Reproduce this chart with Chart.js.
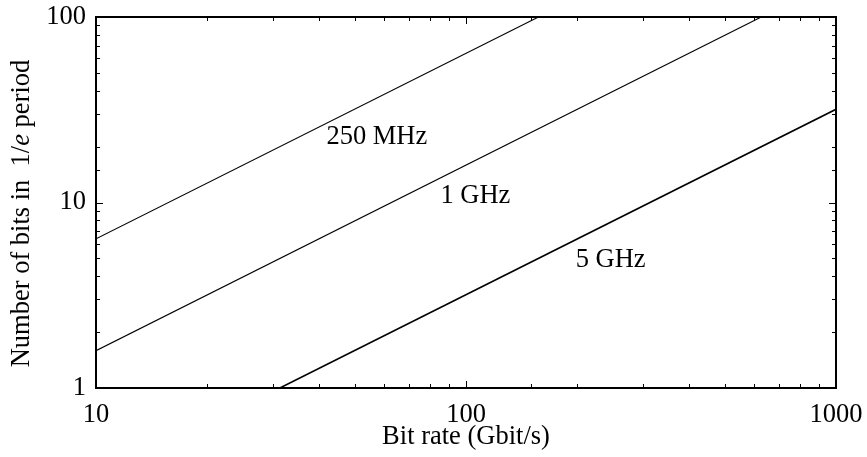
<!DOCTYPE html>
<html>
<head>
<meta charset="utf-8">
<title>Bits per 1/e period vs bit rate</title>
<script src="https://cdn.jsdelivr.net/npm/chart.js@4.4.0/dist/chart.umd.min.js"></script>
<style>
  html, body { margin: 0; padding: 0; background: #fff; }
  #wrap { width: 867px; height: 457px; }
</style>
</head>
<body>
<div id="wrap"><canvas id="chart" width="867" height="457"></canvas></div>
<script>
// Bit rate (Gbit/s) and number of bits at the ends of each straight line
const rate250 = [10, 157];
const bits250 = [6.37, 100];
const rate1G = [10, 628];
const bits1G = [1.59, 100];
const rate5G = [31.4, 1000];
const bits5G = [1, 31.8];

// Curve labels, placed in data coordinates
const curveNames = ["250 MHz", "1 GHz", "5 GHz"];
const curveRate = [57.4, 106, 246];
const curveBits = [22.6, 10.8, 4.92];

// Labelled decades on each axis
const xTickLabels = [10, 100, 1000];
const yTickLabels = [1, 10, 100];

const FONT = "'Liberation Serif', 'Times New Roman', serif";
const SIZE = 26.5;

function toPoints(xs, ys) {
    return xs.map((x, i) => ({ x: x, y: ys[i] }));
}

function isDecade(v) {
    const l = Math.log10(v);
    return Math.abs(l - Math.round(l)) < 1e-9;
}

// box, inward ticks, curve names and the y title (it has an italic "e")
const frame = {
    id: "frame",
    afterDraw(chart) {
        const ctx = chart.ctx;
        const a = chart.chartArea;
        const xs = chart.scales.x, ys = chart.scales.y;
        ctx.save();
        ctx.strokeStyle = "#000";

        ctx.lineWidth = 1;
        ctx.beginPath();
        xs.ticks.forEach(t => {
            const px = Math.round(xs.getPixelForValue(t.value)) + 0.5;
            const len = isDecade(t.value) ? 7 : 4;
            ctx.moveTo(px, a.bottom); ctx.lineTo(px, a.bottom - len);
            ctx.moveTo(px, a.top); ctx.lineTo(px, a.top + len);
        });
        ys.ticks.forEach(t => {
            const py = Math.round(ys.getPixelForValue(t.value)) + 0.5;
            const len = isDecade(t.value) ? 7 : 4;
            ctx.moveTo(a.left, py); ctx.lineTo(a.left + len, py);
            ctx.moveTo(a.right, py); ctx.lineTo(a.right - len, py);
        });
        ctx.stroke();

        ctx.lineWidth = 2;
        ctx.strokeRect(a.left, a.top, a.right - a.left, a.bottom - a.top);

        ctx.fillStyle = "#000";
        ctx.font = SIZE + "px " + FONT;
        ctx.textAlign = "center";
        ctx.textBaseline = "middle";
        curveNames.forEach((name, i) => {
            ctx.fillText(name, xs.getPixelForValue(curveRate[i]), ys.getPixelForValue(curveBits[i]));
        });

        // rotated y title
        const parts = [
            { text: "Number of bits in  1/", font: SIZE + "px " + FONT },
            { text: "e", font: "italic " + SIZE + "px " + FONT },
            { text: " period", font: SIZE + "px " + FONT }
        ];
        let total = 0;
        parts.forEach(p => { ctx.font = p.font; p.w = ctx.measureText(p.text).width; total += p.w; });
        ctx.translate(22, (a.top + a.bottom) / 2 + 11);
        ctx.rotate(-Math.PI / 2);
        ctx.textAlign = "left";
        let pos = -total / 2;
        parts.forEach(p => { ctx.font = p.font; ctx.fillText(p.text, pos, 0); pos += p.w; });
        ctx.restore();
    }
};

const lineStyle = { borderColor: "#000", pointRadius: 0, showLine: true, fill: false, tension: 0 };

new Chart(document.getElementById("chart"), {
    type: "scatter",
    data: {
        datasets: [
            Object.assign({ label: "250 MHz", data: toPoints(rate250, bits250), borderWidth: 1.1 }, lineStyle),
            Object.assign({ label: "1 GHz", data: toPoints(rate1G, bits1G), borderWidth: 1.1 }, lineStyle),
            Object.assign({ label: "5 GHz", data: toPoints(rate5G, bits5G), borderWidth: 1.6 }, lineStyle)
        ]
    },
    options: {
        responsive: false,
        animation: false,
        devicePixelRatio: 1,
        layout: { padding: { left: 0, top: 17, right: 31, bottom: 0 } },
        plugins: { legend: { display: false }, tooltip: { enabled: false } },
        scales: {
            x: {
                type: "logarithmic",
                min: 10,
                max: 1000,
                grid: { display: false, drawTicks: false },
                border: { display: false },
                ticks: {
                    autoSkip: false,
                    maxRotation: 0,
                    padding: 11,
                    color: "#000",
                    font: { family: FONT, size: SIZE },
                    callback: v => xTickLabels.includes(v) ? String(v) : ""
                },
                title: {
                    display: true,
                    text: "Bit rate (Gbit/s)",
                    color: "#000",
                    font: { family: FONT, size: SIZE },
                    padding: { top: 0, bottom: 4 }
                },
                afterFit: s => {
                    s.height = 69;
                    s.paddingLeft = 0;
                    s.paddingRight = 0;
                }
            },
            y: {
                type: "logarithmic",
                min: 1,
                max: 100,
                grid: { display: false, drawTicks: false },
                border: { display: false },
                ticks: {
                    autoSkip: false,
                    padding: 10,
                    color: "#000",
                    font: { family: FONT, size: SIZE },
                    callback: v => yTickLabels.includes(v) ? String(v) : ""
                },
                afterFit: s => {
                    s.width = 96;
                    s.paddingTop = 0;
                    s.paddingBottom = 0;
                }
            }
        }
    },
    plugins: [frame]
});
</script>
</body>
</html>
